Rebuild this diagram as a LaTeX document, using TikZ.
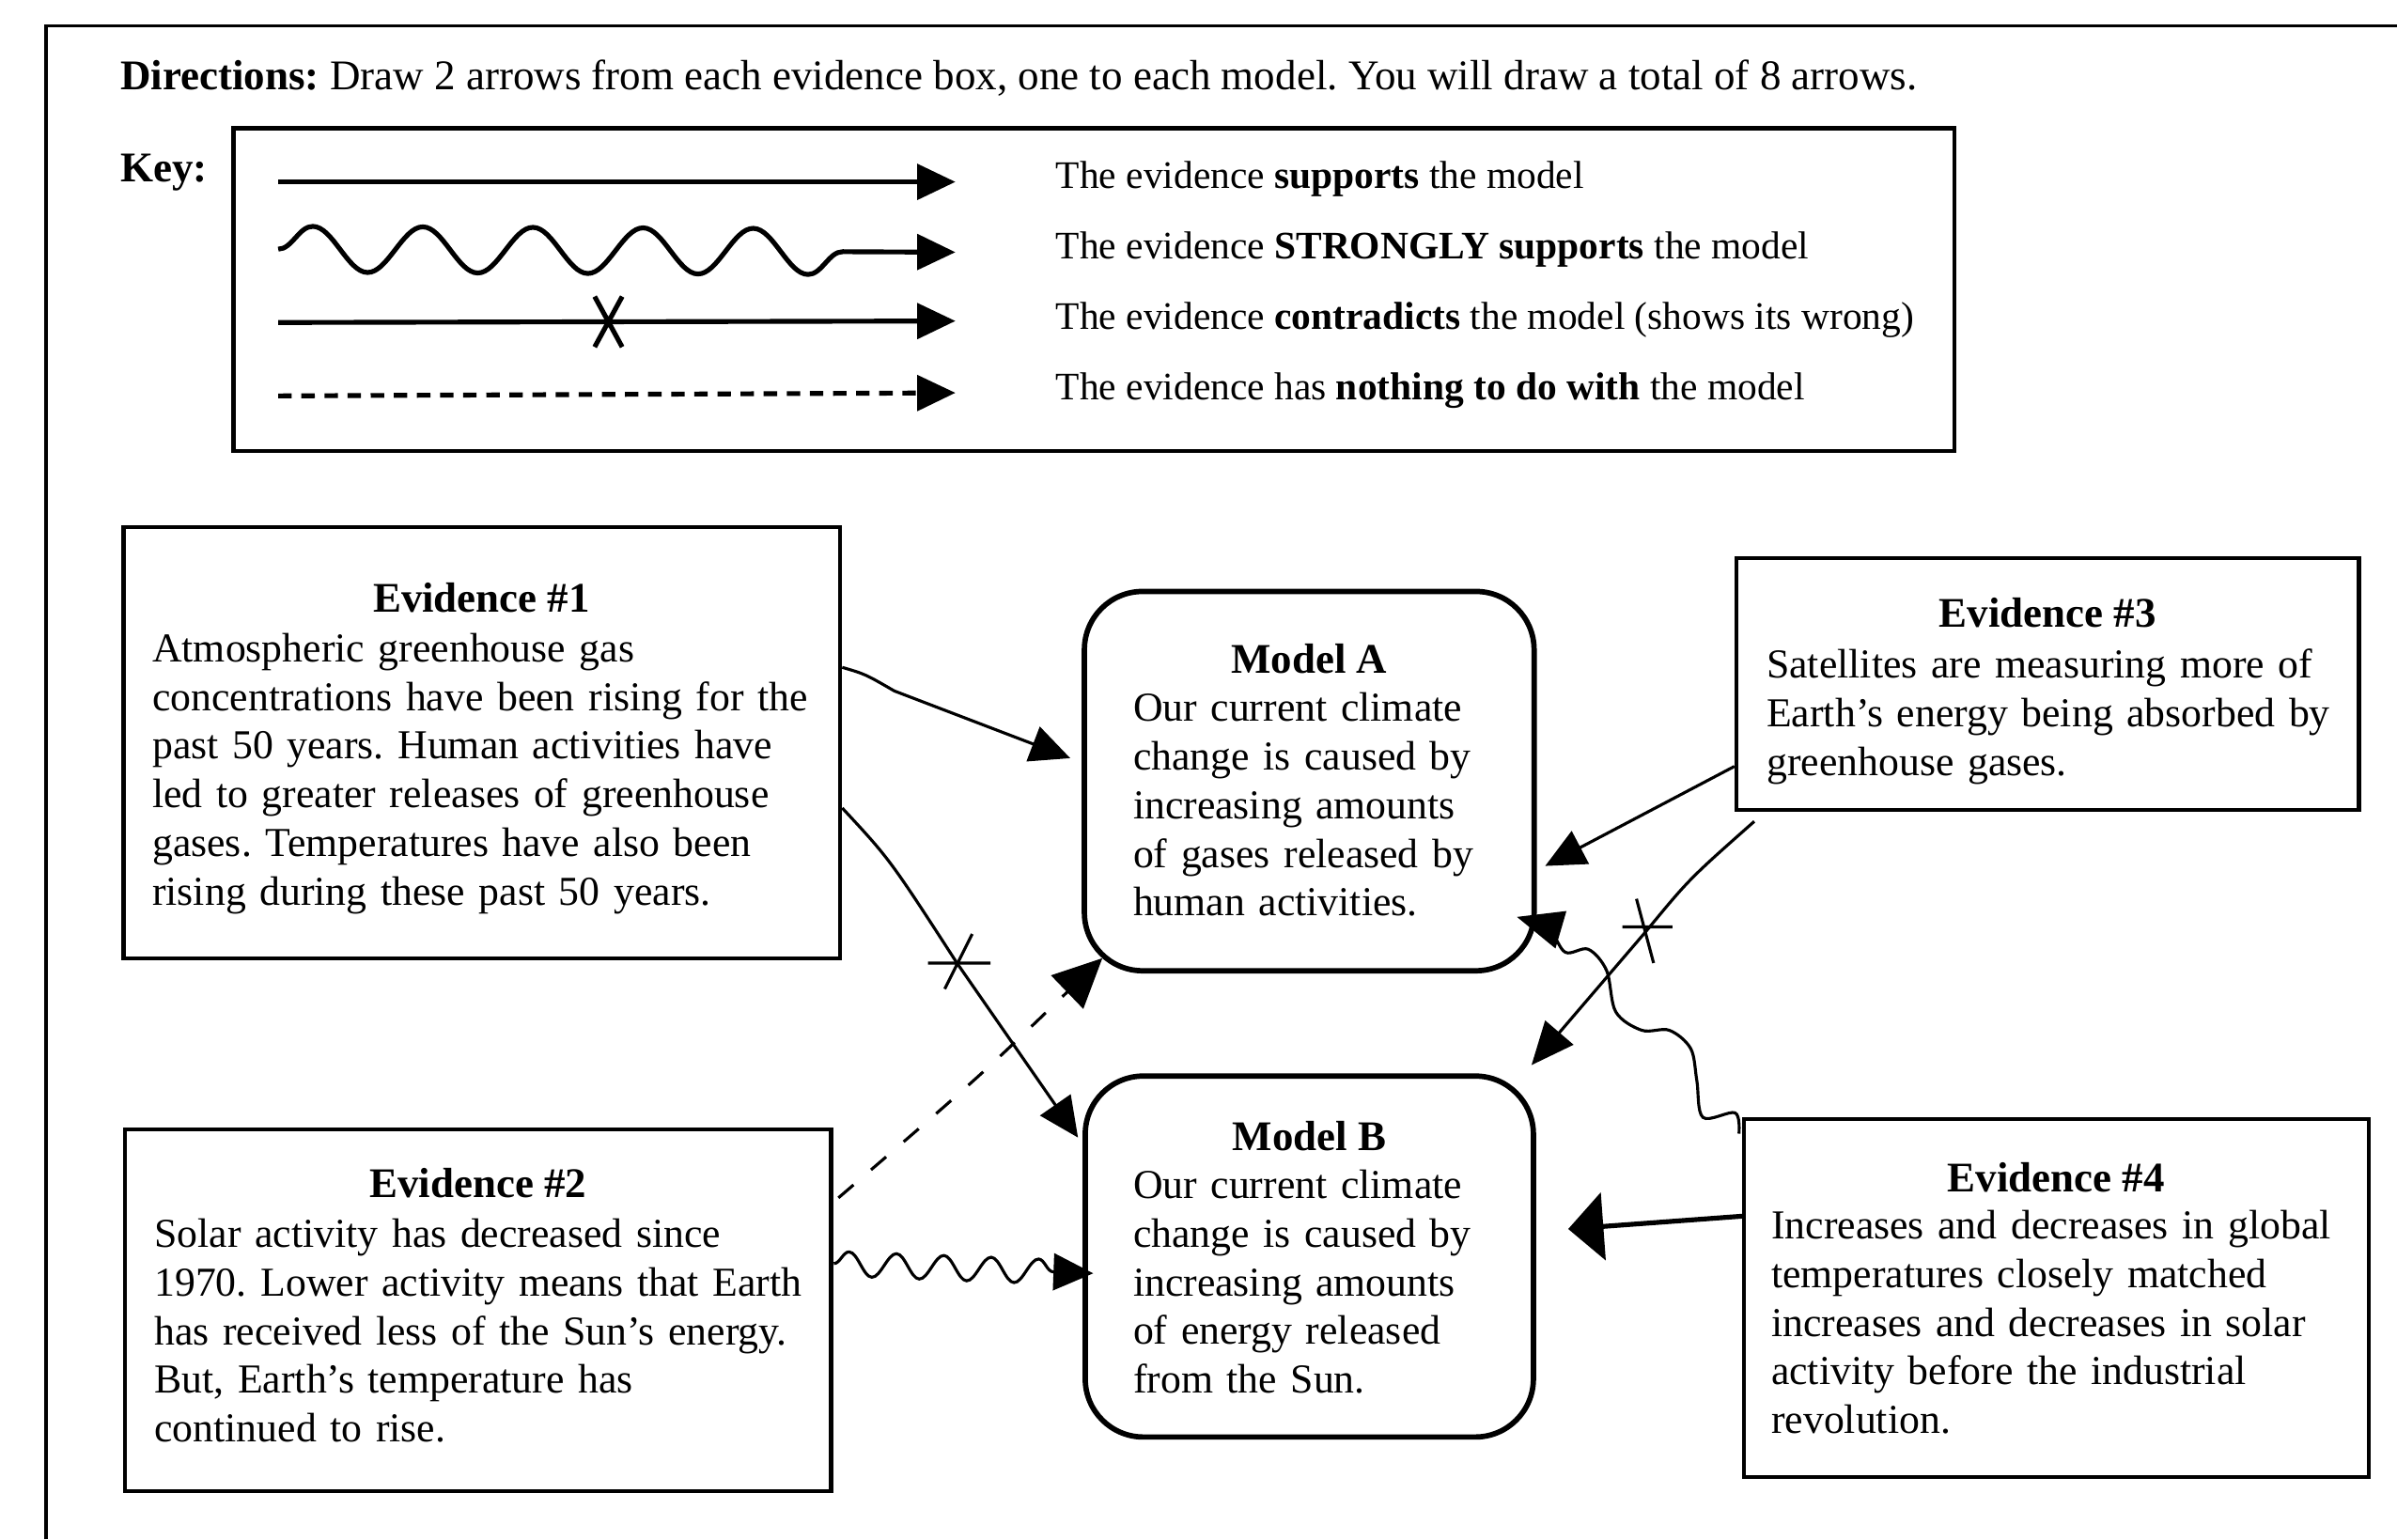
\documentclass[tikz,border=0pt]{standalone}
\usepackage{fontspec}
\setmainfont{Liberation Serif}
\usetikzlibrary{arrows.meta,decorations.pathmorphing,calc}
\frenchspacing
\begin{document}
\begin{tikzpicture}[x=0.01cm,y=-0.01cm,
  ebox/.style={draw,line width=0.75pt,inner sep=0pt,rectangle},
  mbox/.style={draw,line width=1pt,inner sep=0pt,rectangle,rounded corners=3.8mm},
  body/.style={anchor=base west,inner sep=0pt,text width=4.6cm,align=left,font=\fontsize{7.65}{9.05}\selectfont},
  ttl/.style={anchor=base,inner sep=0pt,font=\fontsize{7.85}{9.05}\selectfont\bfseries},
  keytxt/.style={anchor=base west,inner sep=0pt,font=\fontsize{7.25}{8.5}\selectfont},
  keyline/.style={line width=0.9pt,-{Triangle[length=2.5mm,width=2.3mm]}},
  conn/.style={line width=0.55pt,-{Triangle[length=2.6mm,width=2.4mm]}},
  xmark/.style={line width=0.55pt},
]
\useasboundingbox (0,0) rectangle (1568,1007);
\fill[white] (0,0) rectangle (1568,1007);
% outer frame
\draw[line width=0.6pt] (30,1007) -- (30,17) -- (1568,17);

% directions
\node[anchor=base west,inner sep=0pt,font=\fontsize{7.87}{9}\selectfont] (dir) at (78,59)
  {\textbf{Directions:} Draw 2 arrows from each evidence box, one to each model. You will draw a total of 8 arrows.};
\node[anchor=base west,inner sep=0pt,font=\fontsize{7.87}{9}\selectfont\bfseries] (keylbl) at (78,119) {Key:};

% key box
\node[ebox,minimum width=11.25cm,minimum height=2.11cm] (keybox) at (715.5,189.5) {};
\coordinate (k1a) at (182,119); \coordinate (k1b) at (625,119);
\coordinate (k2a) at (182,163); \coordinate (k2b) at (625,165);
\coordinate (k3a) at (182,211); \coordinate (k3b) at (625,210);
\coordinate (k4a) at (182,259); \coordinate (k4b) at (625,257);
\draw[keyline] (k1a) -- (k1b);
\draw[keyline,decorate,decoration={snake,segment length=7.2mm,amplitude=1.5mm,post length=4mm}] (k2a) -- (k2b);
\draw[keyline] (k3a) -- (k3b);
\draw[line width=0.9pt] (389,194) -- (407,227) (407,194) -- (389,227);
\draw[keyline,dash pattern=on 2.5pt off 1.8pt] (k4a) -- (k4b);
\node[keytxt] (kt1) at (690,123.5) {The evidence \textbf{supports} the model};
\node[keytxt] (kt2) at (690,169.5) {The evidence \textbf{STRONGLY supports} the model};
\node[keytxt] (kt3) at (690,215.5) {The evidence \textbf{contradicts} the model (shows its wrong)};
\node[keytxt] (kt4) at (690,261.5) {The evidence has \textbf{nothing to do with} the model};

% evidence boxes
\node[ebox,minimum width=4.685cm,minimum height=2.82cm] (e1) at (315.25,486) {};
\node[ttl] (e1h) at (315,400.5) {Evidence \#1};
\node[body] (e1t) at (99,433) {Atmospheric greenhouse gas\\concentrations have been rising for the\\past 50 years. Human activities have\\led to greater releases of greenhouse\\gases. Temperatures have also been\\rising during these past 50 years.};

\node[ebox,minimum width=4.615cm,minimum height=2.366cm] (e2) at (312.75,857.3) {};
\node[ttl] (e2h) at (312.8,783.7) {Evidence \#2};
\node[body] (e2t) at (100.3,816) {Solar activity has decreased since\\1970. Lower activity means that Earth\\has received less of the Sun’s energy.\\But, Earth’s temperature has\\continued to rise.};

\node[ebox,minimum width=4.07cm,minimum height=1.65cm] (e3) at (1339.5,447.5) {};
\node[ttl] (e3h) at (1339.5,410.6) {Evidence \#3};
\node[body] (e3t) at (1155,443.6) {Satellites are measuring more of\\Earth’s energy being absorbed by\\greenhouse gases.};

\node[ebox,minimum width=4.085cm,minimum height=2.34cm] (e4) at (1345.25,849) {};
\node[ttl] (e4h) at (1345,779.5) {Evidence \#4};
\node[body] (e4t) at (1158,810.5) {Increases and decreases in global\\temperatures closely matched\\increases and decreases in solar\\activity before the industrial\\revolution.};

% model boxes
\node[mbox,minimum width=2.94cm,minimum height=2.48cm] (ma) at (856.45,511) {};
\node[ttl] (mah) at (856.5,440.5) {Model A};
\node[body] (mat) at (740.6,472) {Our current climate\\change is caused by\\increasing amounts\\of gases released by\\human activities.};

\node[mbox,minimum width=2.93cm,minimum height=2.36cm] (mb) at (856.5,822) {};
\node[ttl] (mbh) at (856.5,752.5) {Model B};
\node[body] (mbt) at (740.6,784) {Our current climate\\change is caused by\\increasing amounts\\of energy released\\from the Sun.};

% connectors
% E1 -> A : supports
\draw[conn] ($(e1.north east)+(0,93)$) .. controls (566,441) .. (585,452) -- ($(ma.west)+(-7.5,-15)$);
% E1 -> B : contradicts
\draw[conn] ($(e1.north east)+(0,185)$) .. controls (582,562) .. (626,630) -- ($(mb.north west)+(-3,42)$);
\draw[xmark] (607,630) -- (648,630) (636,611) -- (618,647);
% E2 -> A : nothing to do with
\draw[line width=0.55pt,dash pattern=on 3.7pt off 4.3pt,-{Triangle[length=3.2mm,width=3mm]}]
  ($(e2.north east)+(3.5,46)$) .. controls (640,705) .. ($(ma.south west)+(13.5,-10)$);
% E2 -> B : strongly supports
\draw[conn,decorate,decoration={snake,segment length=3.1mm,amplitude=0.8mm,post length=1.6mm}]
  ($(e2.north east)+(0.5,89)$) -- ($(mb.west)+(7,11)$);
% E3 -> A : supports
\draw[conn] ($(e3.south west)+(0,-30)$) -- ($(ma.east)+(5.5,55.5)$);
% E3 -> B : contradicts
\draw[conn,-{Triangle[length=2.8mm,width=2.4mm]}] ($(e3.south west)+(13,6)$) .. controls (1105,575) .. (1077,609) -- ($(mb.north east)+(-3,-5.4)$);
\draw[xmark] (1061.3,606.4) -- (1094,606.4) (1070.5,588) -- (1081.7,630);
% E4 -> A : strongly supports
\draw[line width=0.55pt,-{Triangle[length=3mm,width=2.5mm]}] plot[smooth,tension=0.55] coordinates {
  ($(e4.north west)+(-2,11)$) (1135,728) (1114,731) (1110,707) (1106,686) (1092,674)
  (1074,674) (1057,662) (1051,635) (1039,621) (1024,623) (1013,608) ($(ma.south east)+(-13,-37)$)};
% E4 -> B : supports
\draw[line width=0.9pt,-{Triangle[length=2.3mm,width=4.4mm]}] ($(e4.north west)+(0,65)$) -- ($(mb.east)+(21,-18)$);
\end{tikzpicture}
\end{document}
